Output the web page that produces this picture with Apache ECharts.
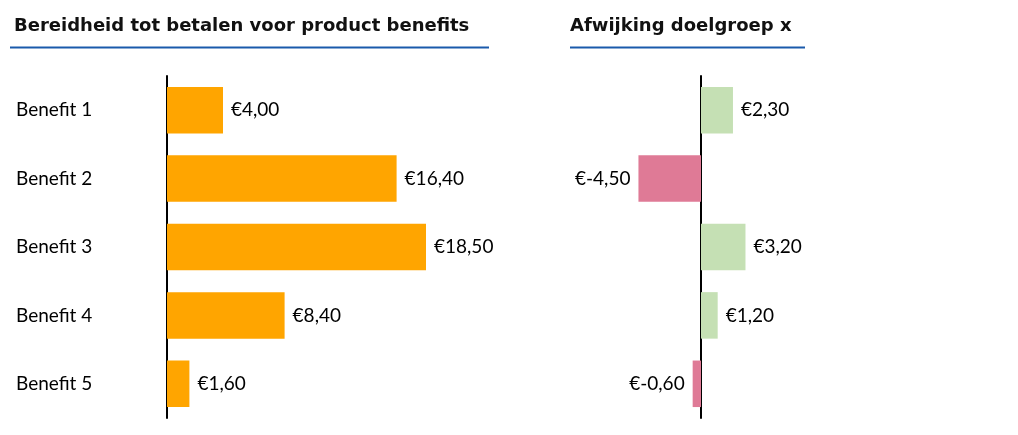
<!DOCTYPE html>
<html><head><meta charset="utf-8">
<script src="https://cdn.jsdelivr.net/npm/echarts@6/dist/echarts.min.js"></script>
<style>html,body{margin:0;padding:0;background:#fff}#c{width:1018px;height:435px}</style>
</head><body><div id="c"></div>
<script>
const categories = ['Benefit 1','Benefit 2','Benefit 3','Benefit 4','Benefit 5'];
const willingness = [4.00, 16.40, 18.50, 8.40, 1.60];
const deviation = [2.30, -4.50, 3.20, 1.20, -0.60];
const titleLeft = 'Bereidheid tot betalen voor product benefits';
const titleRight = 'Afwijking doelgroep x';

const FONT = 'Lato, "Open Sans", sans-serif';
const TFONT = '"DejaVu Sans", "Open Sans", sans-serif';
const fmt = v => '€' + v.toFixed(2).replace('.', ',');
const chart = echarts.init(document.getElementById('c'));
chart.setOption({
  animation: false,
  textStyle: {fontFamily: FONT},
  title: [
    {text: titleLeft, left: 9, top: 12, textStyle: {fontFamily: TFONT, fontSize: 18, fontWeight: 'bold', color: '#111'}},
    {text: titleRight, left: 565, top: 12, textStyle: {fontFamily: TFONT, fontSize: 18, fontWeight: 'bold', color: '#111'}}
  ],
  graphic: [
    {type: 'line', shape: {x1: 10, y1: 47.5, x2: 489, y2: 47.5}, style: {stroke: '#1a5aab', lineWidth: 2}},
    {type: 'line', shape: {x1: 570, y1: 47.5, x2: 805, y2: 47.5}, style: {stroke: '#1a5aab', lineWidth: 2}}
  ],
  grid: [
    {left: 167, top: 76, width: 280, height: 342},
    {left: 562, top: 76, width: 278, height: 342}
  ],
  xAxis: [
    {type: 'value', gridIndex: 0, min: 0, max: 20, show: false},
    {type: 'value', gridIndex: 1, min: -10, max: 10, show: false}
  ],
  yAxis: [
    {type: 'category', gridIndex: 0, data: categories, inverse: true,
     axisLine: {show: true, lineStyle: {color: '#000', width: 2}}, axisTick: {show: false},
     axisLabel: {align: 'left', margin: 151, fontSize: 19, color: '#000', fontFamily: FONT}},
    {type: 'category', gridIndex: 1, data: categories, inverse: true,
     axisLine: {show: true, onZero: true, lineStyle: {color: '#000', width: 2}}, axisTick: {show: false},
     axisLabel: {show: false}}
  ],
  series: [
    {type: 'bar', xAxisIndex: 0, yAxisIndex: 0, data: willingness, barCategoryGap: '32%',
     itemStyle: {color: '#FFA500'},
     label: {show: true, position: 'right', distance: 8, fontSize: 19, color: '#000', fontFamily: FONT, formatter: p => fmt(p.value)}},
    {type: 'bar', xAxisIndex: 1, yAxisIndex: 1, barCategoryGap: '32%',
     data: deviation.map(v => ({
       value: v,
       itemStyle: {color: v >= 0 ? '#C5E0B4' : '#DF7A96'},
       label: {position: v >= 0 ? 'right' : 'left'}
     })),
     label: {show: true, distance: 8, fontSize: 19, color: '#000', fontFamily: FONT, formatter: p => fmt(p.value)}}
  ]
});
</script></body></html>
